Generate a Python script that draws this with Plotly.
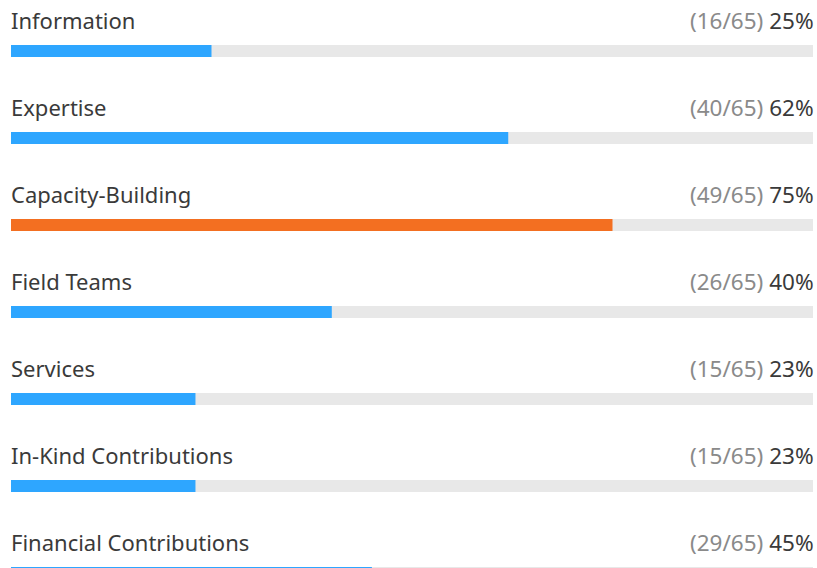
import plotly.graph_objects as go

categories = ["Information", "Expertise", "Capacity-Building", "Field Teams",
              "Services", "In-Kind Contributions", "Financial Contributions"]
counts = [16, 40, 49, 26, 15, 15, 29]
total = 65
percents = [25, 62, 75, 40, 23, 23, 45]
highlight = "Capacity-Building"

BLUE = "#2ea6ff"
ORANGE = "#f36f21"
TRACK = "#e8e8e8"

W, H = 817, 568
ys = list(range(len(categories)))
row = 87.0
first = 51.0
bar_w = 12 / row

colors = [ORANGE if c == highlight else BLUE for c in categories]

fig = go.Figure()
fig.add_trace(go.Bar(x=[100] * len(categories), y=ys, orientation="h",
                     marker=dict(color=TRACK, line=dict(width=0)), width=bar_w,
                     hoverinfo="skip", showlegend=False))
fig.add_trace(go.Bar(x=percents, y=ys, orientation="h",
                     marker=dict(color=colors, line=dict(width=0)), width=bar_w,
                     customdata=categories, hovertemplate="%{customdata}: %{x}%<extra></extra>",
                     showlegend=False))

font = "Segoe UI, Noto Sans, Open Sans, sans-serif"
ann = []
for i, c in enumerate(categories):
    yy = i - 31 / row
    ann.append(dict(x=0, xref="paper", y=yy, yref="y", text=c, showarrow=False,
                    xanchor="left", yanchor="middle", xshift=-2,
                    font=dict(size=22, color="#3a3a3a", family=font)))
    ann.append(dict(x=1, xref="paper", y=yy, yref="y",
                    text=f"<span style='color:#8a8a8a'>({counts[i]}/{total})</span> {percents[i]}%",
                    showarrow=False, xanchor="right", yanchor="middle", xshift=3,
                    font=dict(size=22.5, color="#3a3a3a", family=font)))

fig.update_layout(
    width=W, height=H, barmode="overlay",
    margin=dict(l=11, r=4, t=0, b=0),
    paper_bgcolor="white", plot_bgcolor="white",
    xaxis=dict(range=[0, 100], visible=False, fixedrange=True),
    yaxis=dict(range=[(H - first) / row, -first / row], visible=False, fixedrange=True),
    annotations=ann,
)
fig.write_html("out.html", config={"displayModeBar": False},
               post_script="document.body.style.margin='0';document.body.style.overflow='hidden';")
